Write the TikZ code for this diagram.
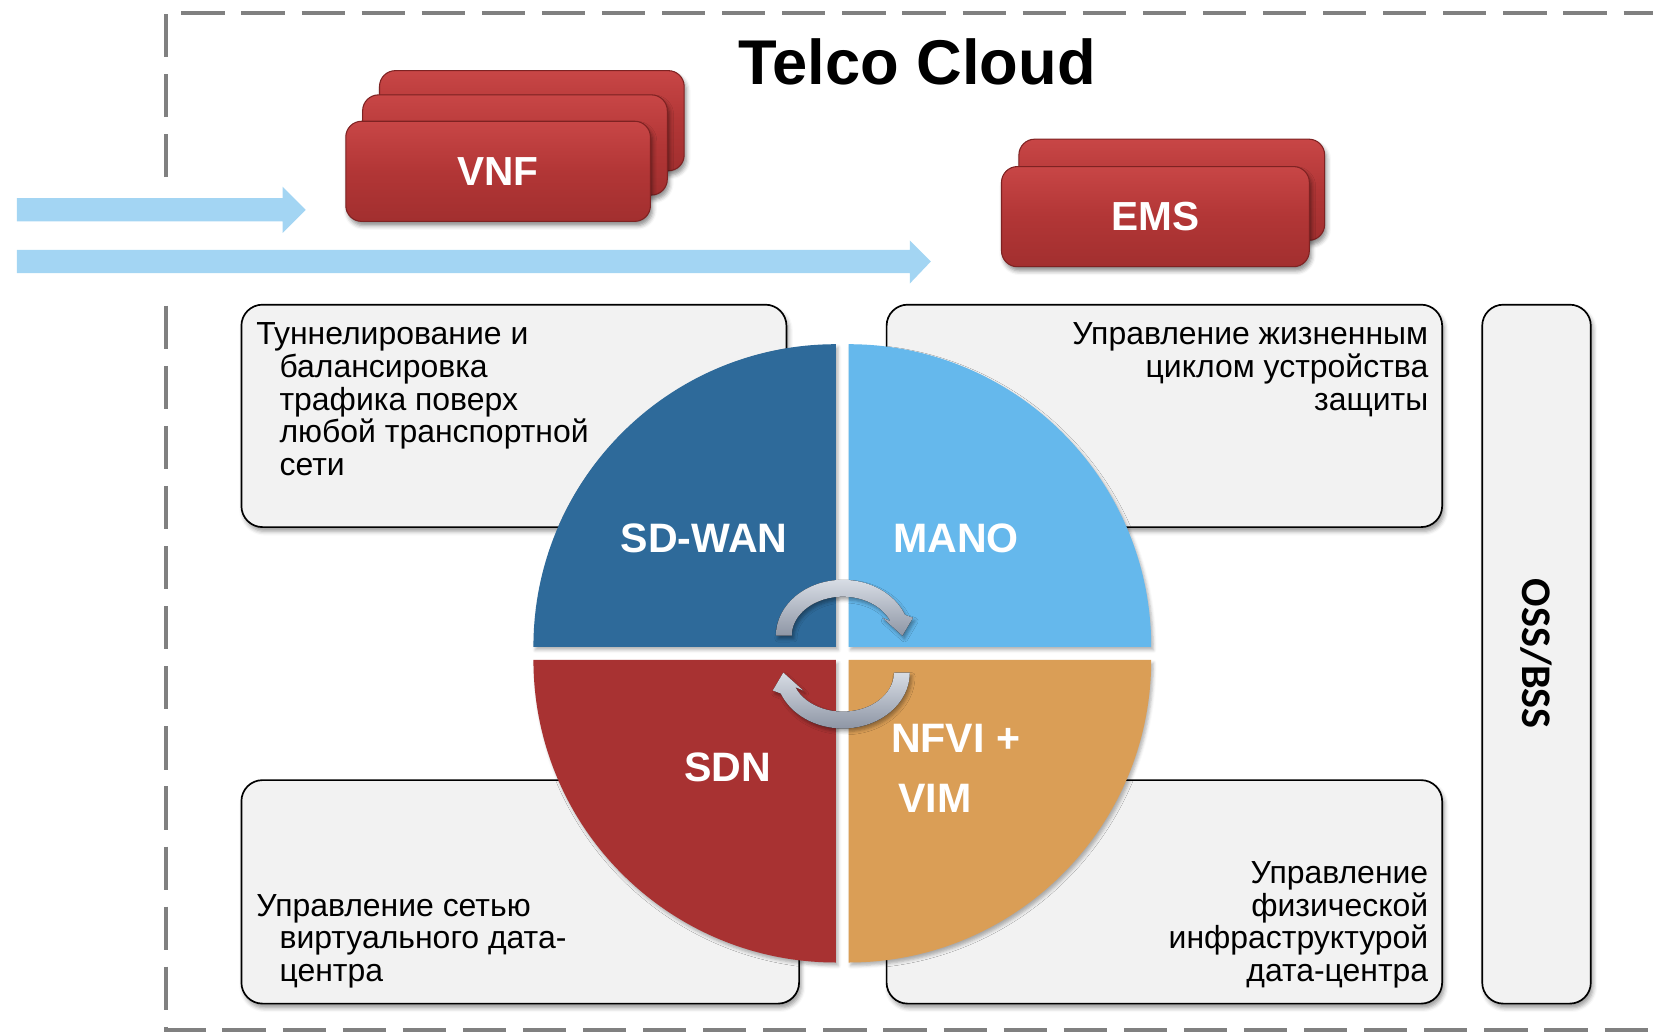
\documentclass[tikz,border=0pt]{standalone}
\usepackage{fontspec}
\setmainfont{Liberation Sans}
\newfontfamily\ossfont{Carlito}
\usetikzlibrary{shadows.blur}

\definecolor{framegray}{HTML}{808080}
\definecolor{flowblue}{HTML}{A3D5F3}
\definecolor{boxred}{HTML}{B23636}
\definecolor{boxredtop}{HTML}{C84646}
\definecolor{boxredbot}{HTML}{A22F2F}
\definecolor{boxredline}{HTML}{7E2222}
\definecolor{panel}{HTML}{F2F2F2}
\definecolor{qsdwan}{HTML}{2E6A9A}
\definecolor{qmano}{HTML}{65B8EC}
\definecolor{qsdn}{HTML}{A83232}
\definecolor{qnfvi}{HTML}{DA9E56}
\definecolor{cyctop}{HTML}{D7DCE4}
\definecolor{cycbot}{HTML}{8E96A5}

\begin{document}
\begin{tikzpicture}[x=1pt,y=-1pt,
  frame/.style={draw=framegray, line width=3.8pt, dash pattern=on 41pt off 16pt},
  flow/.style={fill=flowblue},
  redbox/.style={rounded corners=15pt, draw=boxredline, line width=1pt,
    top color=boxredtop, bottom color=boxredbot, middle color=boxred,
    minimum width=289pt, minimum height=95pt, inner sep=0pt,
    text=white, font=\fontsize{38.5}{46}\selectfont\bfseries,
    blur shadow={shadow xshift=2pt, shadow yshift=-4pt, shadow opacity=45, shadow blur radius=4pt}},
  panelbox/.style={rounded corners=20pt, draw=black, line width=1.6pt, fill=panel, inner sep=0pt,
    blur shadow={shadow xshift=2pt, shadow yshift=-4pt, shadow opacity=40, shadow blur radius=4pt}},
  paneltext/.style={font=\fontsize{30.3}{31}\selectfont, inner sep=0pt, text=black},
  quad/.style={blur shadow={shadow xshift=2pt, shadow yshift=-3pt, shadow opacity=30, shadow blur radius=3pt}},
  qlabel/.style={font=\fontsize{39}{47}\selectfont\bfseries, text=white, inner sep=0pt},
  cyc/.style={top color=cyctop, bottom color=cycbot,
    blur shadow={shadow xshift=2pt, shadow yshift=-3pt, shadow opacity=35, shadow blur radius=3pt}}
]
\useasboundingbox (0,0) rectangle (1568,980);

% dashed Telco Cloud frame
\draw[frame] (157,168) -- (157,12) -- (1610,12);
\draw[frame] (157,290) -- (157,977) -- (1610,977);

\node[font=\fontsize{60}{72}\selectfont\bfseries, anchor=base, inner sep=0pt] (title) at (870,80) {Telco Cloud};

% traffic arrows
\coordinate (flowAstart) at (16,199);
\coordinate (flowAend) at (290,199);
\coordinate (flowBstart) at (16,248);
\coordinate (flowBend) at (883,248);
\fill[flow] (16,188) -- (268,188) -- (268,177) -- (flowAend) -- (268,221) -- (268,210) -- (16,210) -- cycle;
\fill[flow] (16,237) -- (863,237) -- (863,228) -- (flowBend) -- (863,269) -- (863,259) -- (16,259) -- cycle;

% VNF stack
\node[redbox] (vnfc) at (504.5,114.5) {};
\node[redbox] (vnfb) at (488.5,137.5) {};
\node[redbox] (vnfa) at (472.5,162.5) {VNF};

% EMS stack
\node[redbox, minimum width=290pt, minimum height=96pt] (emsb) at (1111.5,180) {};
\node[redbox, minimum width=292pt, minimum height=95pt] (emsa) at (1096,205.5) {EMS};

% panels
\node[panelbox, minimum width=517pt, minimum height=211pt] (ptl) at (487.5,394.5) {};
\node[panelbox, minimum width=527pt, minimum height=211pt] (ptr) at (1104.5,394.5) {};
\node[panelbox, minimum width=529pt, minimum height=212pt] (pbl) at (493.5,846) {};
\node[panelbox, minimum width=527pt, minimum height=212pt] (pbr) at (1104.5,846) {};
\node[panelbox, minimum width=103pt, minimum height=663pt] (oss) at (1457.5,620.5) {};

\node[paneltext, anchor=base west, align=left] (ttl) at (243,451)
  {Туннелирование и\\\hspace*{22pt}балансировка\\\hspace*{22pt}трафика поверх\\\hspace*{22pt}любой транспортной\\\hspace*{22pt}сети};
\node[paneltext, anchor=base east, align=right] (ttr) at (1355,389)
  {Управление жизненным\\циклом устройства\\защиты};
\node[paneltext, anchor=base west, align=left] (tbl) at (243,931)
  {Управление сетью\\\hspace*{22pt}виртуального дата-\\\hspace*{22pt}центра};
\node[paneltext, anchor=base east, align=right] (tbr) at (1355,931)
  {Управление\\физической\\инфраструктурой\\дата-центра};

\node[font=\ossfont\fontsize{40}{48}\selectfont\bfseries, rotate=-90, inner sep=0pt] (osst) at (1457,620) {OSS/BSS};

% circle quadrants
\fill[qsdwan, quad] (793,613.5) -- (506,613.5) arc[start angle=180, end angle=270, radius=287] -- cycle;
\fill[qmano, quad] (805,613.5) -- (805,326.5) arc[start angle=270, end angle=360, radius=287] -- cycle;
\fill[qsdn, quad] (793,626) -- (506,626) arc[start angle=180, end angle=90, radius=287] -- cycle;
\fill[qnfvi, quad] (805,626) -- (1092,626) arc[start angle=0, end angle=90, radius=287] -- cycle;

% cycle arrows
\fill[cyc] (736,603) arc[start angle=-180, end angle=-22, x radius=63.5, y radius=53]
  -- (866,586) -- (856,603) -- (837,586) -- (844.5,589.1)
  arc[start angle=-22, end angle=-180, x radius=48.5, y radius=37] -- cycle;
\fill[cyc] (863,638) arc[start angle=0, end angle=158, x radius=63.5, y radius=53]
  -- (733,655) -- (743,638) -- (762,655) -- (754.5,651.9)
  arc[start angle=158, end angle=0, x radius=48.5, y radius=37] -- cycle;

% quadrant labels
\node[qlabel] (lsdwan) at (668,511) {SD-WAN};
\node[qlabel] (lmano) at (907,511) {MANO};
\node[qlabel] (lsdn) at (690,728) {SDN};
\node[qlabel, anchor=base west, align=left, font=\fontsize{39}{57}\selectfont\bfseries] (lnfvi) at (845,771)
  {NFVI +\\\hspace*{7pt}VIM};
\end{tikzpicture}
\end{document}
